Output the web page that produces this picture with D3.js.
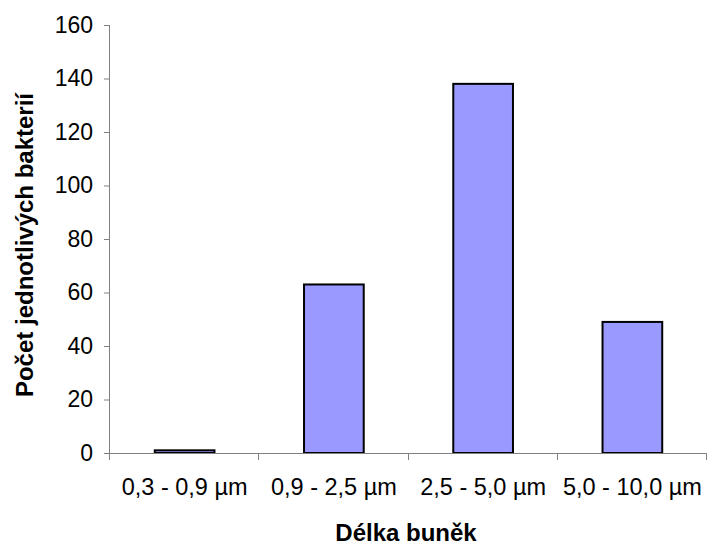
<!DOCTYPE html>
<html><head><meta charset="utf-8">
<script src="https://cdn.jsdelivr.net/npm/d3@7"></script>
<style>body{margin:0;background:#fff;} text{font-family:"Liberation Sans",Arial,sans-serif;}</style>
</head><body>
<svg id="c" width="708" height="545"></svg>
<script>
const categories = ["0,3 - 0,9 µm", "0,9 - 2,5 µm", "2,5 - 5,0 µm", "5,0 - 10,0 µm"];
const values = [1, 63, 138, 49];
const yTicks = [0, 20, 40, 60, 80, 100, 120, 140, 160];
const xTitle = "Délka buněk";
const yTitle = "Počet jednotlivých bakterií";

const svg = d3.select("#c");
const L = 110, R = 707, T = 25, B = 453;
const axisColor = "#808080";

const x = d3.scaleBand().domain(categories).range([L, R]).paddingInner(0.6).paddingOuter(0.3);
const y = d3.scaleLinear().domain([0, 160]).range([B, T]);

// bars
svg.selectAll("rect.bar").data(values).enter().append("rect")
  .attr("class", "bar")
  .attr("x", (d, i) => x(categories[i]))
  .attr("width", x.bandwidth())
  .attr("y", d => y(d))
  .attr("height", d => y(0) - y(d))
  .attr("fill", "#9999ff")
  .attr("stroke", "#000")
  .attr("stroke-width", 2);

// y axis
const yAxis = d3.axisLeft(y).tickValues(yTicks).tickSize(6).tickPadding(11).tickFormat(d3.format("d"));
const gy = svg.append("g").attr("transform", `translate(${L},0)`).call(yAxis);
gy.select(".domain").attr("stroke", axisColor).attr("d", `M-0.5,${T}V${B}`);
gy.selectAll(".tick line").attr("stroke", axisColor);
gy.selectAll(".tick text").attr("font-size", 23).attr("fill", "#000").attr("font-family", "Liberation Sans, Arial, sans-serif");

// x axis line + boundary ticks
const step = x.step();
const bounds = d3.range(categories.length + 1).map(i => L + i * step);
svg.append("line").attr("x1", L).attr("x2", R).attr("y1", B + 0.5).attr("y2", B + 0.5).attr("stroke", axisColor);
svg.selectAll("line.xt").data(bounds).enter().append("line")
  .attr("x1", d => Math.round(d) - 0.5).attr("x2", d => Math.round(d) - 0.5)
  .attr("y1", B).attr("y2", B + 7).attr("stroke", axisColor);
svg.selectAll("text.xl").data(categories).enter().append("text")
  .attr("x", d => x(d) + x.bandwidth() / 2).attr("y", 495)
  .attr("text-anchor", "middle").attr("font-size", 23.5).text(d => d);

// titles
svg.append("text").attr("x", 406).attr("y", 541).attr("text-anchor", "middle")
  .attr("font-size", 24).attr("font-weight", "bold").text(xTitle);
svg.append("text").attr("transform", "translate(33,245) rotate(-90)").attr("text-anchor", "middle")
  .attr("font-size", 24).attr("font-weight", "bold").text(yTitle);
</script>
</body></html>
